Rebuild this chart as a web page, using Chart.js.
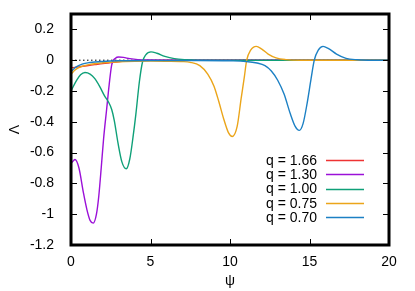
<!DOCTYPE html>
<html>
<head>
<meta charset="utf-8">
<script src="https://cdn.jsdelivr.net/npm/chart.js@4.4.1/dist/chart.umd.min.js"></script>
<style>
  html, body { margin: 0; padding: 0; background: #fff; }
  #wrap { width: 415px; height: 291px; }
</style>
</head>
<body>
<div id="wrap"><canvas id="lambda"></canvas></div>
<script>
// series labels and colours
var seriesLabels = ['q = 1.66', 'q = 1.30', 'q = 1.00', 'q = 0.75', 'q = 0.70'];
var seriesColors = ['#ee3333', '#9b10d8', '#0fa078', '#eba51a', '#1c80c4'];

var xTicks = [0, 5, 10, 15, 20];
var yTicks = [-1.2, -1, -0.8, -0.6, -0.4, -0.2, 0, 0.2];

// values
var psi166 = [0, 0.5, 1, 1.5, 2, 2.5, 3, 3.5, 4, 5, 6, 20];
var lam166 = [-0.05, -0.043, -0.036, -0.029, -0.022, -0.016, -0.01, -0.006, -0.003, -0.001, 0, 0];

var psi130 = [0.05, 0.25, 0.5, 0.78, 1.0, 1.2, 1.4, 1.6, 1.75, 1.9, 2.05, 2.24, 2.4, 2.56, 2.8, 3.0, 3.3, 3.7, 4.2, 5, 6, 20];
var lam130 = [-0.665, -0.645, -0.70, -0.86, -0.97, -1.04, -1.058, -1.0, -0.88, -0.70, -0.51, -0.32, -0.16, -0.03, 0.013, 0.021, 0.018, 0.01, 0.004, 0.001, 0, 0];

var psi100 = [0, 0.36, 0.6, 0.88, 1.2, 1.5, 1.8, 2.1, 2.35, 2.56, 2.72, 2.96, 3.2, 3.48, 3.7, 3.9, 4.08, 4.3, 4.5, 4.7, 5.03, 5.4, 5.9, 6.5, 7.2, 8, 20];
var lam100 = [-0.2, -0.13, -0.095, -0.08, -0.09, -0.12, -0.17, -0.23, -0.27, -0.32, -0.39, -0.54, -0.66, -0.705, -0.64, -0.5, -0.35, -0.14, -0.01, 0.035, 0.054, 0.045, 0.025, 0.01, 0.003, 0, 0];

var psi075 = [0, 0.3, 0.7, 1.2, 2, 3, 4, 5, 6, 7, 7.5, 8.1, 8.6, 9.0, 9.3, 9.6, 9.9, 10.15, 10.45, 10.7, 10.9, 11.05, 11.3, 11.65, 12.0, 12.4, 12.9, 13.5, 14.5, 20];
var lam075 = [-0.09, -0.06, -0.04, -0.027, -0.017, -0.01, -0.007, -0.006, -0.007, -0.009, -0.014, -0.035, -0.09, -0.17, -0.27, -0.38, -0.47, -0.495, -0.43, -0.25, -0.11, 0, 0.065, 0.09, 0.072, 0.04, 0.015, 0.004, 0, 0];

var psi070 = [0, 0.3, 0.7, 1.2, 2, 3, 5, 8, 10, 11, 11.7, 12.2, 12.6, 13.0, 13.4, 13.8, 14.1, 14.36, 14.6, 14.85, 15.1, 15.3, 15.55, 15.85, 16.2, 16.7, 17.3, 18, 19, 20];
var lam070 = [-0.075, -0.045, -0.025, -0.015, -0.008, -0.004, -0.002, -0.002, -0.004, -0.008, -0.018, -0.035, -0.07, -0.13, -0.22, -0.35, -0.43, -0.456, -0.41, -0.28, -0.12, 0, 0.065, 0.09, 0.075, 0.04, 0.012, 0.003, 0, 0];

var zeroPsi = [0, 20];
var zeroLam = [0, 0];

var FONT = 'Liberation Sans, Arial, Helvetica, sans-serif';

function pts(xs, ys) {
  return xs.map(function (x, i) { return { x: x, y: ys[i] }; });
}

var allPsi = [psi166, psi130, psi100, psi075, psi070];
var allLam = [lam166, lam130, lam100, lam075, lam070];

var datasets = seriesLabels.map(function (lab, i) {
  return {
    label: lab,
    data: pts(allPsi[i], allLam[i]),
    borderColor: seriesColors[i],
    borderWidth: 1.4,
    pointRadius: 0,
    fill: false,
    cubicInterpolationMode: 'monotone',
    order: 5 - i   // later series drawn on top, as in the original
  };
});
datasets.push({
  label: 'zero',
  data: pts(zeroPsi, zeroLam),
  borderColor: '#000',
  borderWidth: 1,
  borderDash: [1.5, 2.5],
  pointRadius: 0,
  fill: false,
  order: 10
});

// frame, inward ticks and the key inside the plot
var framePlugin = {
  id: 'frame',
  afterDraw: function (chart) {
    var ctx = chart.ctx, a = chart.chartArea;
    var xs = chart.scales.x, ys = chart.scales.y;
    ctx.save();
    ctx.strokeStyle = '#000';
    ctx.lineWidth = 1;
    ctx.beginPath();
    xTicks.forEach(function (v) {
      var px = Math.round(xs.getPixelForValue(v)) + 0.5;
      ctx.moveTo(px, a.bottom); ctx.lineTo(px, a.bottom - 6);
      ctx.moveTo(px, a.top); ctx.lineTo(px, a.top + 6);
    });
    yTicks.forEach(function (v) {
      var py = Math.round(ys.getPixelForValue(v)) + 0.5;
      ctx.moveTo(a.left, py); ctx.lineTo(a.left + 6, py);
      ctx.moveTo(a.right, py); ctx.lineTo(a.right - 6, py);
    });
    ctx.stroke();

    ctx.lineWidth = 3;
    ctx.strokeRect(a.left, a.top, a.right - a.left, a.bottom - a.top);

    // key
    ctx.font = '14px ' + FONT;
    ctx.textAlign = 'right';
    ctx.textBaseline = 'middle';
    ctx.fillStyle = '#000';
    seriesLabels.forEach(function (lab, i) {
      var y = 160 + i * 14.3;
      ctx.fillText(lab, 317, y + 1);
      ctx.strokeStyle = seriesColors[i];
      ctx.lineWidth = 1.4;
      ctx.beginPath();
      ctx.moveTo(326, Math.round(y) + 0.5);
      ctx.lineTo(364, Math.round(y) + 0.5);
      ctx.stroke();
    });
    ctx.restore();
  }
};

var ctx = document.getElementById('lambda').getContext('2d');
var chart = new Chart(ctx, {
  type: 'line',
  data: { datasets: datasets },
  plugins: [framePlugin],
  options: {
    responsive: true,
    maintainAspectRatio: false,
    animation: false,
    devicePixelRatio: 1,
    layout: { padding: { top: 14, right: 26, left: 0, bottom: 0 } },
    plugins: { legend: { display: false }, tooltip: { enabled: false } },
    scales: {
      x: {
        type: 'linear',
        min: 0, max: 20,
        grid: { display: false },
        border: { display: false },
        afterBuildTicks: function (s) { s.ticks = xTicks.map(function (v) { return { value: v }; }); },
        afterFit: function (s) { s.height = 46; s.paddingLeft = 0; s.paddingRight = 0; },
        ticks: { color: '#000', font: { family: FONT, size: 14 }, padding: 1, maxRotation: 0 },
        title: { display: true, text: 'ψ', color: '#000', font: { family: FONT, size: 14 }, padding: { top: 0, bottom: 1 } }
      },
      y: {
        type: 'linear',
        min: -1.2, max: 0.3,
        grid: { display: false },
        border: { display: false },
        afterBuildTicks: function (s) { s.ticks = yTicks.map(function (v) { return { value: v }; }); },
        afterFit: function (s) { s.width = 71; s.paddingTop = 0; s.paddingBottom = 0; },
        ticks: {
          color: '#000', font: { family: FONT, size: 14 }, padding: 9,
          callback: function (v) { return String(Math.round(v * 10) / 10); }
        },
        title: { display: true, text: 'Λ', color: '#000', font: { family: FONT, size: 14 }, padding: { top: 6.6, bottom: 0 } }
      }
    }
  }
});
</script>
</body>
</html>
